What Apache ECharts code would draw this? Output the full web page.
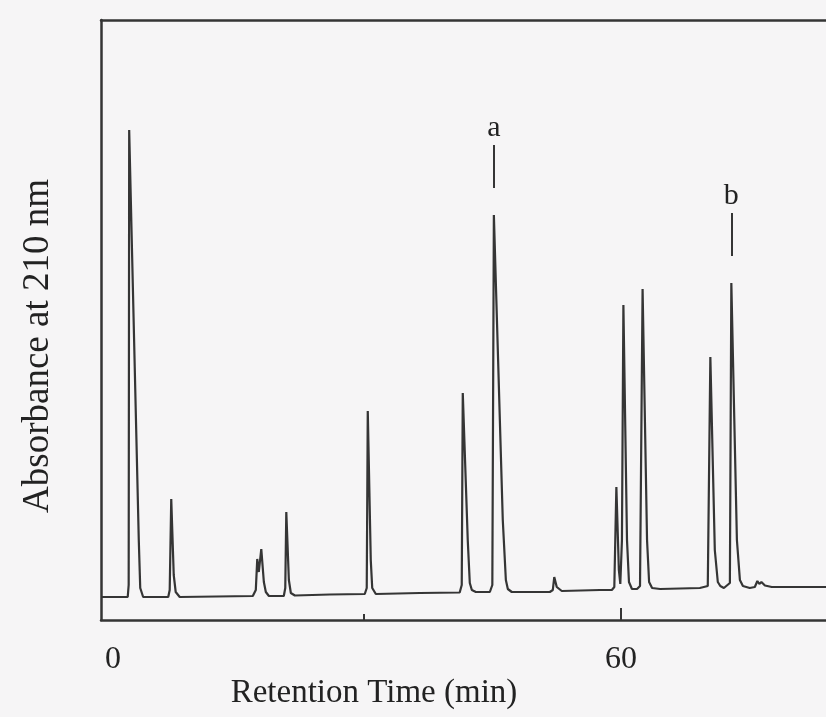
<!DOCTYPE html>
<html>
<head>
<meta charset="utf-8">
<script src="https://cdn.jsdelivr.net/npm/echarts@6/dist/echarts.min.js"></script>
<style>
  html, body { margin: 0; padding: 0; background: #f6f5f6; }
  #chart { width: 826px; height: 717px; }
</style>
</head>
<body>
<div id="chart"></div>
<script>
// Chromatogram trace: retention time (min) and absorbance at 210 nm (AU, baseline-referenced)
const retentionTime = [
  -0.70, 2.18, 2.42, 2.53, 2.59, 3.71, 3.88, 4.22,
  7.15, 7.32, 7.50, 7.79, 8.02, 8.49,
  17.02, 17.37, 17.54, 17.72, 18.01, 18.31, 18.54, 18.90,
  20.64, 20.81, 20.93, 21.23, 21.46, 21.93,
  26.01,
  30.09, 30.32, 30.44, 30.79, 30.96, 31.38,
  36.51,
  41.17, 41.41, 41.53, 42.11, 42.35, 42.59, 43.06,
  44.69, 44.98, 45.16, 46.20, 46.56, 46.79, 47.25,
  51.69, 52.04, 52.21, 52.50, 53.09,
  57.53, 58.93,
  59.22, 59.46, 59.75, 59.92,
  60.11, 60.28, 60.70, 60.93, 61.28, 61.87,
  62.22, 62.52, 63.04, 63.28, 63.63, 64.57,
  69.20,
  70.13, 70.43, 70.95, 71.30, 71.59,
  72.01, 72.71, 72.88, 73.53, 73.88, 74.23, 75.03,
  75.62, 75.92, 76.15, 76.39, 76.80, 77.60, 80.86, 83.93
];
const absorbance = [
  0.000, 0.000, 0.000, 0.012, 0.467, 0.057, 0.009, 0.000,
  0.000, 0.007, 0.098, 0.022, 0.005, 0.000,
  0.001, 0.007, 0.038, 0.025, 0.048, 0.015, 0.005, 0.001,
  0.001, 0.009, 0.085, 0.017, 0.004, 0.0015,
  0.0025,
  0.003, 0.009, 0.186, 0.037, 0.009, 0.003,
  0.004,
  0.0045, 0.012, 0.204, 0.057, 0.014, 0.007, 0.005,
  0.005, 0.012, 0.382, 0.077, 0.017, 0.008, 0.005,
  0.005, 0.007, 0.020, 0.010, 0.006,
  0.007, 0.007,
  0.010, 0.110, 0.027, 0.013,
  0.057, 0.292, 0.057, 0.015, 0.008, 0.008,
  0.011, 0.308, 0.057, 0.015, 0.009, 0.008,
  0.009,
  0.011, 0.240, 0.047, 0.015, 0.011,
  0.009, 0.014, 0.314, 0.057, 0.017, 0.011, 0.009,
  0.010, 0.016, 0.013, 0.015, 0.0115, 0.010, 0.010, 0.010
];

// Time-axis ticks: a long one at each labelled value, a short one halfway
const majorTicks = [60];
const minorTicks = [30];
const timeTickLabels = [0, 60];

// Identified peaks, marked at their apex retention time
const peakNames = ['a', 'b'];
const peakTimes = [45.16, 72.88];

const ink = '#353535';
const serif = '"Liberation Serif", "DejaVu Serif", serif';
const timeMin = -0.7;
const timeMax = 83.93;

const trace = retentionTime.map((t, i) => [t, absorbance[i]]);

// Leader lines above each identified peak, with the peak letter on top
const peakMarks = peakNames.map((name, i) => {
  const idx = retentionTime.indexOf(peakTimes[i]);
  const apex = absorbance[idx];
  return [
    { coord: [peakTimes[i], apex + 0.027] },
    { coord: [peakTimes[i], apex + 0.070], label: { formatter: name } }
  ];
});

const frameLine = { show: true, onZero: false, lineStyle: { color: ink, width: 2.5 } };
const hidden = { show: false };

const chart = echarts.init(document.getElementById('chart'));
chart.setOption({
  backgroundColor: '#f6f5f6',
  animation: false,
  grid: { left: 101, right: 0, top: 20, bottom: 97 },
  xAxis: [
    {
      type: 'value',
      min: timeMin, max: timeMax,
      axisLine: frameLine,
      splitLine: hidden,
      axisTick: {
        show: true, inside: true, length: 12,
        customValues: majorTicks,
        lineStyle: { color: ink, width: 2 }
      },
      axisLabel: {
        show: true,
        customValues: timeTickLabels,
        margin: 24,
        color: '#222',
        fontFamily: serif,
        fontSize: 32,
        formatter: v => (v === 0 ? '{z|0}' : '{n|' + v + '}'),
        rich: {
          z: { fontFamily: serif, fontSize: 32, color: '#222', padding: [0, 0, 0, 12] },
          n: { fontFamily: serif, fontSize: 32, color: '#222' }
        }
      }
    },
    {
      // top edge of the plot frame
      type: 'value',
      position: 'top',
      min: timeMin, max: timeMax,
      axisLine: frameLine,
      axisTick: hidden,
      axisLabel: hidden,
      splitLine: hidden
    },
    {
      // short halfway tick on the time axis
      type: 'value',
      position: 'bottom',
      min: timeMin, max: timeMax,
      axisLine: { show: false, onZero: false },
      axisTick: {
        show: true, inside: true, length: 6,
        customValues: minorTicks,
        lineStyle: { color: ink, width: 2 }
      },
      axisLabel: hidden,
      splitLine: hidden
    }
  ],
  yAxis: {
    type: 'value',
    min: -0.023, max: 0.577,
    axisLine: frameLine,
    axisTick: hidden,
    axisLabel: hidden,
    splitLine: hidden
  },
  graphic: [
    {
      type: 'text', x: 374, y: 693,
      style: {
        text: 'Retention Time (min)', fill: '#222',
        font: '33px ' + serif, textAlign: 'center', textVerticalAlign: 'middle'
      }
    },
    {
      type: 'text', x: 38, y: 346, rotation: Math.PI / 2,
      style: {
        text: 'Absorbance at 210 nm', fill: '#222',
        font: '37px ' + serif, textAlign: 'center', textVerticalAlign: 'middle'
      }
    }
  ],
  series: [{
    type: 'line',
    xAxisIndex: 0,
    data: trace,
    symbol: 'none',
    smooth: false,
    lineStyle: { color: ink, width: 2.2 },
    markLine: {
      symbol: 'none',
      silent: true,
      lineStyle: { color: ink, width: 2, type: 'solid' },
      label: {
        show: true, position: 'end', distance: 2,
        color: '#222', fontFamily: serif, fontSize: 30
      },
      data: peakMarks
    }
  }]
});
</script>
</body>
</html>
